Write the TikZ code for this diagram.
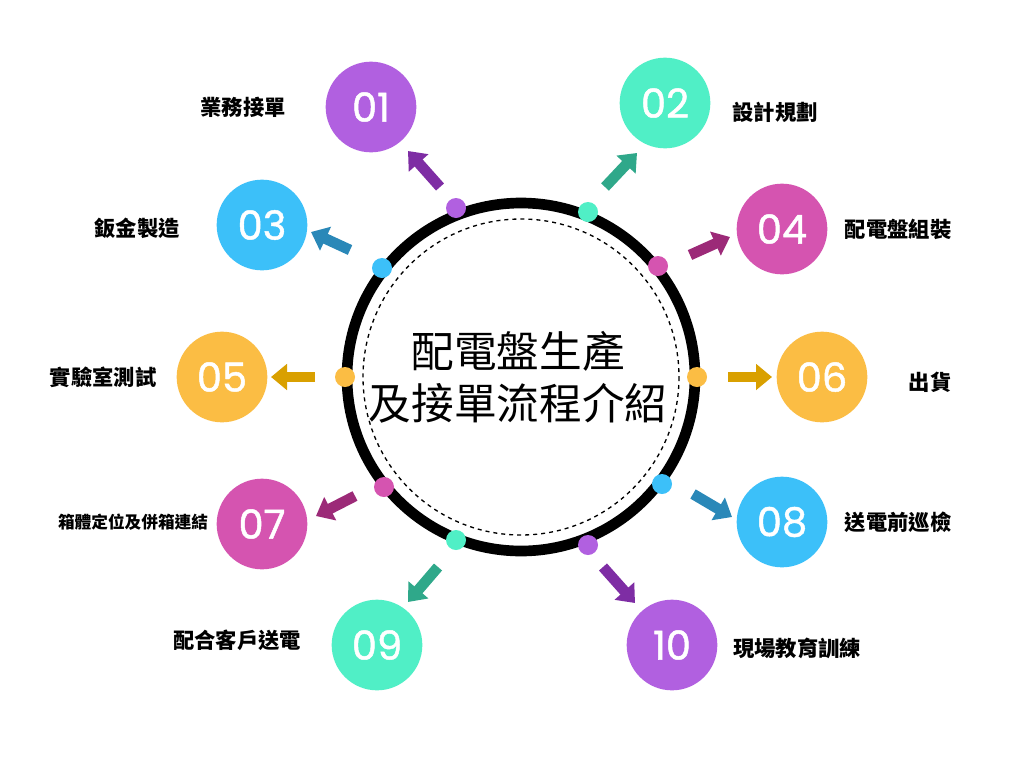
\documentclass[tikz,border=0pt]{standalone}
\usepackage{fontspec}
\newfontfamily\cjk{Noto Sans CJK TC}
\newfontfamily\numf[FakeBold=1.2]{Poppins}
\usetikzlibrary{arrows.meta}
\definecolor{cpur}{HTML}{B160E0}\definecolor{ctea}{HTML}{50EFC6}
\definecolor{cblu}{HTML}{3CC0F9}\definecolor{cmag}{HTML}{D554B0}
\definecolor{cyel}{HTML}{FBBD44}
\definecolor{apur}{HTML}{7E2DA4}\definecolor{atea}{HTML}{2FA88A}
\definecolor{ablu}{HTML}{2A88B8}\definecolor{amag}{HTML}{9C2A78}
\definecolor{ayel}{HTML}{D9A000}
\tikzset{
 num/.style={circle,minimum size=68pt,inner sep=0pt,fill=#1,text=white,font=\numf\fontsize{30}{30}\selectfont},
 dotn/.style={circle,minimum size=15pt,inner sep=0pt,fill=#1},
 lab/.style={font=\cjk\bfseries\fontsize{16}{17}\selectfont},
 arr/.style={line width=8pt,color=#1,-{Triangle[length=12pt,width=19pt]}}
}
\begin{document}
\begin{tikzpicture}[x=0.75pt,y=-0.75pt]
\useasboundingbox (0,0) rectangle (1024,768);
\fill[white] (0,0) rectangle (1024,768);
\node[circle,draw=black,line width=8pt,minimum size=261pt,inner sep=0pt] (ring) at (521,377) {};
\draw[dashed,line width=1pt] (521,377) circle (158);
\node[font=\cjk\fontsize{32}{39}\selectfont,align=center] (title) at (518,377) {配電盤生產\\及接單流程介紹};
% circles
\node[num=cpur] (n1) at (371,107) {01};
\node[num=ctea] (n2) at (665,103) {02};
\node[num=cblu] (n3) at (262,225) {03};
\node[num=cmag] (n4) at (782,229) {04};
\node[num=cyel] (n5) at (222,377) {05};
\node[num=cyel] (n6) at (822,377) {06};
\node[num=cmag] (n7) at (262,524) {07};
\node[num=cblu] (n8) at (782,522) {08};
\node[num=ctea] (n9) at (377,645) {09};
\node[num=cpur] (n10) at (672,645) {10};
% dots
\node[dotn=cpur] (d1) at (456,208) {};
\node[dotn=ctea] (d2) at (588,212) {};
\node[dotn=cblu] (d3) at (382,268) {};
\node[dotn=cmag] (d4) at (658,266) {};
\node[dotn=cyel] (d5) at (345,377) {};
\node[dotn=cyel] (d6) at (697,377) {};
\node[dotn=cmag] (d7) at (384,487) {};
\node[dotn=cblu] (d8) at (662,484) {};
\node[dotn=ctea] (d9) at (456,540) {};
\node[dotn=cpur] (d10) at (588,545) {};
% arrows
\coordinate (a1s) at (440,187); \coordinate (a1e) at (408,151);
\coordinate (a2s) at (605,187); \coordinate (a2e) at (637,153);
\coordinate (a3s) at (350,250); \coordinate (a3e) at (311,232);
\coordinate (a4s) at (690,255); \coordinate (a4e) at (730,237);
\coordinate (a5s) at (315,377); \coordinate (a5e) at (271,377);
\coordinate (a6s) at (728,377); \coordinate (a6e) at (772,377);
\coordinate (a7s) at (355,496); \coordinate (a7e) at (316,516);
\coordinate (a8s) at (693,494); \coordinate (a8e) at (732,517);
\coordinate (a9s) at (438,567); \coordinate (a9e) at (408,602);
\coordinate (a10s) at (603,567); \coordinate (a10e) at (635,603);
\draw[arr=apur] (a1s)--(a1e);
\draw[arr=atea] (a2s)--(a2e);
\draw[arr=ablu] (a3s)--(a3e);
\draw[arr=amag] (a4s)--(a4e);
\draw[arr=ayel] (a5s)--(a5e);
\draw[arr=ayel] (a6s)--(a6e);
\draw[arr=amag] (a7s)--(a7e);
\draw[arr=ablu] (a8s)--(a8e);
\draw[arr=atea] (a9s)--(a9e);
\draw[arr=apur] (a10s)--(a10e);
% labels
\node[lab] (l1) at (243,107) {業務接單};
\node[lab] (l2) at (775,112) {設計規劃};
\node[lab] (l3) at (137,228) {鈑金製造};
\node[lab] (l4) at (898,229) {配電盤組裝};
\node[lab] (l5) at (103,377) {實驗室測試};
\node[lab] (l6) at (930,382) {出貨};
\node[lab,font=\cjk\bfseries\fontsize{12.5}{13}\selectfont] (l7) at (133,522) {箱體定位及併箱連結};
\node[lab] (l8) at (898,522) {送電前巡檢};
\node[lab] (l9) at (237,640) {配合客戶送電};
\node[lab] (l10) at (797,648) {現場教育訓練};
\end{tikzpicture}
\end{document}
